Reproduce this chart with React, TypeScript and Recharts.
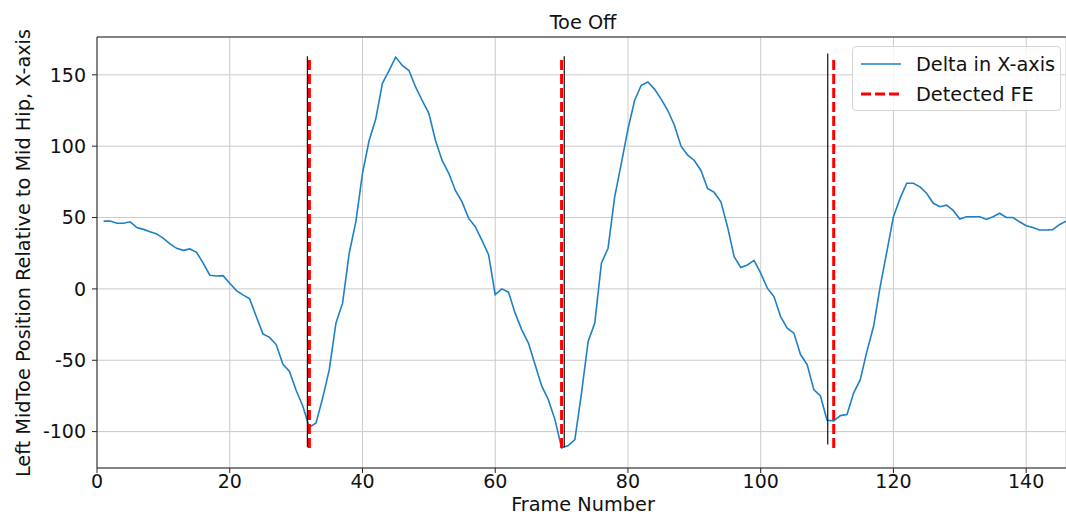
import React from "react";
import {
  ComposedChart,
  Line,
  XAxis,
  YAxis,
  CartesianGrid,
  ReferenceLine,
} from "recharts";

// Frame numbers and the toe's X offset from the mid hip.
const frames: number[] = Array.from({ length: 146 }, (_, i) => i + 1);
const deltaX: number[] = [
  47.5, 47.5, 46, 46, 47, 43, 41.7, 40, 38.5, 35.4,
  31.5, 28.4, 27, 28, 25.6, 18, 9.6, 9, 9.3, 4,
  -1.2, -4.2, -7, -19.4, -31.5, -34, -39, -52.7, -57.8, -71,
  -82, -97, -94, -76.5, -56.6, -24, -10, 25, 47, 81,
  104, 119, 144, 153, 162.4, 156.6, 153, 141.5, 132, 123,
  104, 90, 81, 69, 61, 49.4, 43.6, 34, 24, -4,
  0, -2.3, -17, -28.7, -38, -53, -68, -77.6, -91.6, -111.4,
  -109.8, -105.6, -73, -36.8, -24, 18, 28.5, 64.5, 88, 112,
  132, 142.7, 145, 140, 133, 125, 114.7, 100, 93.7, 90,
  83, 70.4, 67.6, 61, 43.6, 22.6, 15, 16.8, 20, 11,
  0.5, -5.4, -19.4, -27.5, -31, -46, -53, -70.6, -75, -92,
  -92.5, -88.8, -88, -73, -63.6, -43.8, -26.4, 1.6, 26, 50.6,
  63.4, 74, 74, 71.5, 67, 60, 57.6, 58.7, 55, 49,
  50.6, 50.6, 50.6, 48.7, 50.6, 53, 50, 50, 47, 44.3,
  43, 41.3, 41.3, 41.5, 45, 47.5,
];

// Event markers: reference toe-off frames (black) and detected frames (red dashed).
const referenceTO: number[] = [31.7, 70.4, 110.1];
const referenceSpan: [number, number][] = [
  [-111, 163],
  [-111, 163],
  [-109, 165],
];
const detectedFE: number[] = [32, 70, 111];
const detectedSpan: [number, number] = [-111.4, 162.4];

const xTicks: number[] = [0, 20, 40, 60, 80, 100, 120, 140];
const yTicks: number[] = [-100, -50, 0, 50, 100, 150];
const xDomain: [number, number] = [0, 146];
const yDomain: [number, number] = [-125.5, 176.5];

const seriesName = "Delta in X-axis";
const markerName = "Detected FE";
const titleText = "Toe Off";
const xLabel = "Frame Number";
const yLabel = "Left MidToe Position Relative to Mid Hip, X-axis";

const FONT = "'DejaVu Sans', sans-serif";
const BLUE = "#1f80c4";
const RED = "#ff0000";
const TICK_FONT = 19;
const LABEL_FONT = 19.3;

const data = frames.map((f, i) => ({ frame: f, delta: deltaX[i] }));

export default function App() {
  const W = 1066;
  const H = 515;
  return (
    <div
      style={{
        position: "fixed",
        left: 0,
        top: 0,
        width: W,
        height: H,
        background: "#fff",
        fontFamily: FONT,
        overflow: "hidden",
      }}
    >
      <ComposedChart
        width={W}
        height={H}
        data={data}
        margin={{ top: 37, right: 0, bottom: 17, left: 0 }}
      >
        <CartesianGrid stroke="#cbcbcb" strokeWidth={1} />
        <XAxis
          dataKey="frame"
          type="number"
          domain={xDomain}
          ticks={xTicks}
          allowDataOverflow
          height={30}
          stroke="#222"
          tickSize={5}
          tickMargin={2}
          tick={{ fill: "#111", fontSize: TICK_FONT, fontFamily: FONT }}
        />
        <YAxis
          type="number"
          domain={yDomain}
          ticks={yTicks}
          allowDataOverflow
          width={97}
          stroke="#222"
          tickSize={5}
          tickMargin={6}
          tick={{ fill: "#111", fontSize: TICK_FONT, fontFamily: FONT }}
        />
        <ReferenceLine y={yDomain[1]} stroke="#222" strokeWidth={1} ifOverflow="visible" />
        <Line
          dataKey="delta"
          name={seriesName}
          stroke={BLUE}
          strokeWidth={1.6}
          dot={false}
          isAnimationActive={false}
        />
        {referenceTO.map((x, i) => (
          <ReferenceLine
            key={"ref" + i}
            segment={[
              { x, y: referenceSpan[i][0] },
              { x, y: referenceSpan[i][1] },
            ]}
            stroke="#111"
            strokeWidth={1.2}
            ifOverflow="visible"
          />
        ))}
        {detectedFE.map((x, i) => (
          <ReferenceLine
            key={"det" + i}
            segment={[
              { x, y: detectedSpan[0] },
              { x, y: detectedSpan[1] },
            ]}
            stroke={RED}
            strokeWidth={3}
            strokeDasharray="10 4"
            ifOverflow="visible"
          />
        ))}
      </ComposedChart>

      {/* title */}
      <div
        style={{
          position: "absolute",
          left: 483,
          width: 200,
          top: 11,
          textAlign: "center",
          fontSize: LABEL_FONT,
          color: "#111",
        }}
      >
        {titleText}
      </div>

      {/* x-axis label */}
      <div
        style={{
          position: "absolute",
          left: 433,
          width: 300,
          top: 493,
          textAlign: "center",
          fontSize: LABEL_FONT,
          color: "#111",
        }}
      >
        {xLabel}
      </div>

      {/* y-axis label */}
      <div
        style={{
          position: "absolute",
          left: 23,
          top: 253,
          width: 600,
          textAlign: "center",
          fontSize: LABEL_FONT,
          color: "#111",
          whiteSpace: "nowrap",
          transform: "translate(-50%, -50%) rotate(-90deg)",
        }}
      >
        {yLabel}
      </div>

      {/* legend */}
      <div
        style={{
          position: "absolute",
          left: 852,
          top: 46,
          width: 209,
          height: 65,
          boxSizing: "border-box",
          border: "1px solid #d6d6d6",
          borderRadius: 4,
          background: "rgba(255,255,255,0.8)",
          fontSize: LABEL_FONT,
          color: "#111",
        }}
      >
        {[
          { label: seriesName, color: BLUE, dash: undefined, w: 1.6 },
          { label: markerName, color: RED, dash: "10 4", w: 3 },
        ].map((e, i) => (
          <div
            key={e.label}
            style={{
              position: "absolute",
              left: 7,
              top: 3 + i * 30,
              height: 28,
              display: "flex",
              alignItems: "center",
              whiteSpace: "nowrap",
            }}
          >
            <svg width={42} height={10} style={{ marginRight: 14 }}>
              <line
                x1={1}
                x2={41}
                y1={5}
                y2={5}
                stroke={e.color}
                strokeWidth={e.w}
                strokeDasharray={e.dash}
              />
            </svg>
            <span>{e.label}</span>
          </div>
        ))}
      </div>
    </div>
  );
}
